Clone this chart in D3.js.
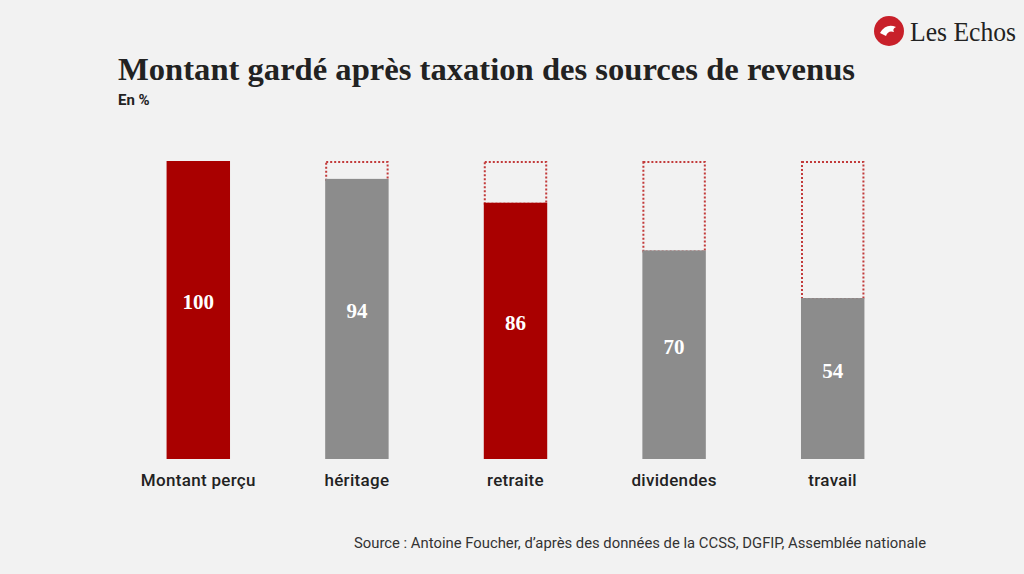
<!DOCTYPE html>
<html><head><meta charset="utf-8">
<script src="https://cdn.jsdelivr.net/npm/d3@7"></script>
<style>body{margin:0;background:#f2f2f2}</style></head>
<body><svg id="c" width="1024" height="574"></svg>
<script>
const categories=["Montant perçu","héritage","retraite","dividendes","travail"];
const values=[100,94,86,70,54];
const highlight=[true,false,true,false,false];
const svg=d3.select("#c");
svg.append("rect").attr("width",1024).attr("height",574).attr("fill","#f2f2f2");
const x=d3.scaleBand().domain(categories).range([119,912]).paddingInner(0.6).paddingOuter(0.3);
const y=d3.scaleLinear().domain([0,100]).range([459,161]);
const g=svg.append("g");
categories.forEach((c,i)=>{
  const v=values[i],bx=x(c),w=x.bandwidth();
  if(v<100) g.append("rect").attr("x",bx+1).attr("y",y(100)+1).attr("width",w-2).attr("height",y(v)-y(100)).attr("fill","none").attr("stroke","#c23a3a").attr("stroke-width",2).attr("stroke-dasharray","2,2");
  g.append("rect").attr("x",bx).attr("y",y(v)).attr("width",w).attr("height",y(0)-y(v)).attr("fill",highlight[i]?"#a90000":"#8c8c8c");
  g.append("text").attr("x",bx+w/2).attr("y",(y(v)+y(0))/2-1).attr("text-anchor","middle").attr("font-family","Liberation Serif, serif").attr("font-weight","bold").attr("font-size",21).attr("fill","#fff").text(v);
  g.append("text").attr("x",bx+w/2).attr("y",486).attr("text-anchor","middle").attr("font-family","Roboto, sans-serif").attr("font-weight",500).attr("font-size",17).attr("letter-spacing",0.3).attr("fill","#222").text(c);
});
svg.append("text").attr("x",118).attr("y",80).attr("font-family","Liberation Serif, serif").attr("font-weight","bold").attr("font-size",31).attr("fill","#222").attr("textLength",737).attr("lengthAdjust","spacingAndGlyphs").text("Montant gardé après taxation des sources de revenus");
svg.append("text").attr("x",118).attr("y",105).attr("font-family","Roboto, sans-serif").attr("font-weight","bold").attr("font-size",15).attr("fill","#222").text("En %");
svg.append("text").attr("x",354).attr("y",548).attr("font-family","Roboto, sans-serif").attr("font-size",14).attr("fill","#333").attr("textLength",572).attr("lengthAdjust","spacingAndGlyphs").text("Source : Antoine Foucher, d’après des données de la CCSS, DGFIP, Assemblée nationale");
svg.append("circle").attr("cx",889).attr("cy",31).attr("r",15).attr("fill","#c8202a");
svg.append("path").attr("d","M880 33 q6 -10 16 -6 q-4 2 -2 5 q-6 -2 -8 4 z").attr("fill","#fff");
svg.append("text").attr("x",910).attr("y",41).attr("font-family","Liberation Serif, serif").attr("font-size",27).attr("fill","#222").attr("textLength",106).attr("lengthAdjust","spacingAndGlyphs").text("Les Echos");
</script></body></html>
